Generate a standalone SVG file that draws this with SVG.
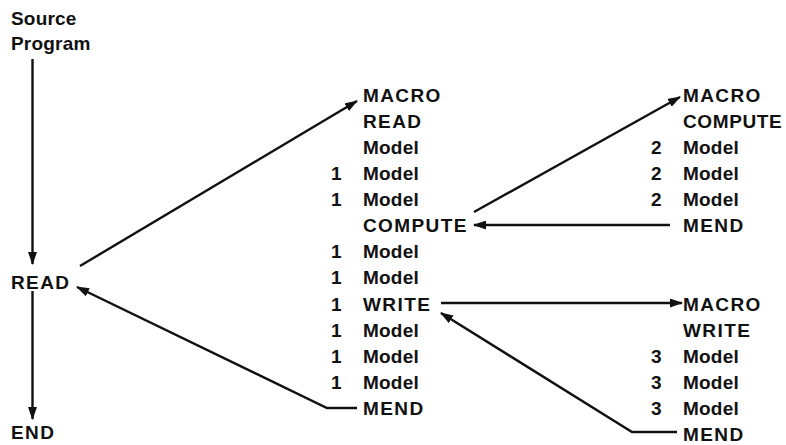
<svg xmlns="http://www.w3.org/2000/svg" width="786" height="445" viewBox="0 0 786 445">
<style>
text{font-family:"Liberation Sans",Arial,sans-serif;font-weight:bold;font-size:19px;fill:#111;letter-spacing:1.4px}
text.m{letter-spacing:0.2px}
text.n{letter-spacing:0.6px}
.c{fill:none;stroke:#111;stroke-width:2.4}
</style>
<defs>
<marker id="ah" markerUnits="userSpaceOnUse" markerWidth="13" markerHeight="9" refX="12" refY="4.5" orient="auto">
<path d="M0,0 L13,4.5 L0,9 z" fill="#111"/>
</marker>
</defs>
<rect width="786" height="445" fill="#fff"/>
<g id="source"><text class="m" x="11" y="25">Source</text><text class="m" x="11" y="50">Program</text></g>
<g id="read-main"><text x="11" y="289">READ</text></g>
<g id="end"><text x="11" y="439">END</text></g>
<g id="macro-read">
<text x="363" y="102">MACRO</text>
<text x="363" y="128">READ</text>
<text class="m" x="363" y="154">Model</text>
<text x="331" y="180">1</text><text class="m" x="363" y="180">Model</text>
<text x="331" y="206">1</text><text class="m" x="363" y="206">Model</text>
<text x="363" y="232">COMPUTE</text>
<text x="331" y="258">1</text><text class="m" x="363" y="258">Model</text>
<text x="331" y="284">1</text><text class="m" x="363" y="284">Model</text>
<text x="331" y="311">1</text><text x="363" y="311">WRITE</text>
<text x="331" y="337">1</text><text class="m" x="363" y="337">Model</text>
<text x="331" y="363">1</text><text class="m" x="363" y="363">Model</text>
<text x="331" y="389">1</text><text class="m" x="363" y="389">Model</text>
<text x="363" y="415">MEND</text>
</g>
<g id="macro-compute">
<text x="683" y="102">MACRO</text>
<text class="n" x="683" y="128">COMPUTE</text>
<text x="651" y="154">2</text><text class="m" x="683" y="154">Model</text>
<text x="651" y="180">2</text><text class="m" x="683" y="180">Model</text>
<text x="651" y="206">2</text><text class="m" x="683" y="206">Model</text>
<text x="683" y="232">MEND</text>
</g>
<g id="macro-write">
<text x="683" y="311">MACRO</text>
<text x="683" y="337">WRITE</text>
<text x="651" y="363">3</text><text class="m" x="683" y="363">Model</text>
<text x="651" y="389">3</text><text class="m" x="683" y="389">Model</text>
<text x="651" y="415">3</text><text class="m" x="683" y="415">Model</text>
<text x="683" y="441">MEND</text>
</g>
<g id="connectors">
<line class="c" x1="32.5" y1="59" x2="32.5" y2="264" marker-end="url(#ah)"/>
<line class="c" x1="32.5" y1="291" x2="32.5" y2="419" marker-end="url(#ah)"/>
<line class="c" x1="80" y1="266" x2="357" y2="101" marker-end="url(#ah)"/>
<polyline class="c" points="357,408 327,408 77,287" marker-end="url(#ah)"/>
<line class="c" x1="474" y1="212" x2="680" y2="97" marker-end="url(#ah)"/>
<line class="c" x1="670" y1="225" x2="474" y2="225" marker-end="url(#ah)"/>
<line class="c" x1="441" y1="303" x2="682" y2="303" marker-end="url(#ah)"/>
<polyline class="c" points="677,432 632,432 441,313" marker-end="url(#ah)"/>
</g>
</svg>
